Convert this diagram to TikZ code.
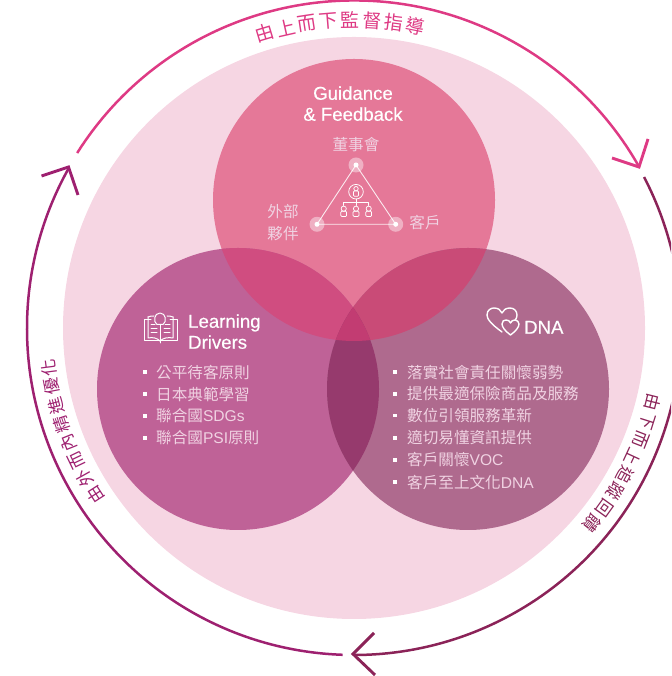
\documentclass[tikz,border=0pt]{standalone}
\usepackage{fontspec}
\setmainfont{Liberation Sans}
\newfontfamily\cjk{Noto Sans CJK TC}
\newfontfamily\headfont[FakeBold=0.35]{Liberation Sans}
\definecolor{cOuter}{HTML}{F6D6E3}
\definecolor{cTop}{HTML}{E57898}
\definecolor{cLeft}{HTML}{BF6297}
\definecolor{cRight}{HTML}{AF6A8E}
\definecolor{cTL}{HTML}{D04D80}
\definecolor{cTR}{HTML}{C94B77}
\definecolor{cTri}{HTML}{C23C72}
\definecolor{cLR}{HTML}{963A6D}
\definecolor{cArcTop}{HTML}{DE3A84}
\definecolor{cArcLeft}{HTML}{9E2070}
\definecolor{cArcRight}{HTML}{8B2358}
\definecolor{cItem}{HTML}{F0D2E2}
\tikzset{
  disc/.style={circle,inner sep=0pt,minimum size=282pt,fill=#1},
  arcline/.style={line width=2.5pt,color=#1,line cap=butt},
  arrowtip/.style={line width=2.9pt,color=#1,line join=miter},
  arcchar/.style={inner sep=0pt,font=\cjk\fontsize{#1}{#1}\selectfont},
  heading/.style={text=white,inner sep=0pt,font=\headfont\fontsize{18.6}{21}\selectfont,text height=13pt,text depth=3.5pt},
  cjklabel/.style={text=cItem,inner sep=0pt,font=\cjk\fontsize{15.6}{22}\selectfont,text height=13pt,text depth=2.5pt},
  listitem/.style={cjklabel,anchor=west},
  bullet/.style={fill=white,inner sep=0pt,minimum size=3.6pt},
  halo/.style={circle,inner sep=0pt,minimum size=15pt,fill=white,fill opacity=.42},
  dotc/.style={circle,inner sep=0pt,minimum size=5pt,fill=white},
  iconline/.style={draw=white,line width=1pt,line join=round,line cap=round},
}
\newcommand{\lat}[1]{{\fontspec{Liberation Sans}#1}}
\begin{document}
\begin{tikzpicture}[x=1pt,y=1pt]
\useasboundingbox (0,0) rectangle (671,676);
\clip (0,0) rectangle (671,676);
\coordinate (c) at (354,348);
% discs
\node[disc=cOuter,minimum size=582pt] (outer) at (354,348) {};
\node[disc=cTop] (topdisc) at (354,476) {};
\node[disc=cLeft] (leftdisc) at (238,287) {};
\node[disc=cRight] (rightdisc) at (468,287) {};
\begin{scope}
  \clip (354,476) circle (141pt);
  \fill[cTL] (238,287) circle (141pt);
  \fill[cTR] (468,287) circle (141pt);
\end{scope}
\begin{scope}
  \clip (238,287) circle (141pt);
  \fill[cLR] (468,287) circle (141pt);
  \clip (354,476) circle (141pt);
  \fill[cTri] (468,287) circle (141pt);
\end{scope}
% outer arcs
\draw[arcline=cArcTop] ([shift={(147.7:327.5pt)}]c) arc[start angle=147.7,end angle=29.5,radius=327.5pt];
\draw[arcline=cArcRight] ([shift={(27.5:327pt)}]c) arc[start angle=27.5,end angle=-90,radius=327pt];
\draw[arcline=cArcLeft] ([shift={(268:327pt)}]c) arc[start angle=268,end angle=150.6,radius=327pt];
\coordinate (tipT) at (639,509); \coordinate (tipT1) at (612,518); \coordinate (tipT2) at (648,537);
\coordinate (tipL) at (68.5,509); \coordinate (tipL1) at (41.5,500); \coordinate (tipL2) at (78,481);
\coordinate (tipB) at (353,22); \coordinate (tipB1) at (374,43); \coordinate (tipB2) at (375,1);
\draw[arrowtip=cArcTop] (tipT1) -- (tipT) -- (tipT2);
\draw[arrowtip=cArcLeft] (tipL1) -- (tipL) -- (tipL2);
\draw[arrowtip=cArcRight] (tipB1) -- (tipB) -- (tipB2);
% arc texts
\foreach \ch [count=\i from 0] in {由,上,而,下,監,督,指,導}{
  \pgfmathsetmacro{\ang}{106.8-4.03*\i}
  \pgfmathsetmacro{\rt}{\ang-90}
  \node[arcchar=19,text=cArcTop,rotate=\rt] (arcT\i) at ([shift={(\ang:308pt)}]c) {\ch};
}
\foreach \ch [count=\i from 0] in {由,外,而,內,精,進,優,化}{
  \pgfmathsetmacro{\ang}{212.8-3.63*\i}
  \pgfmathsetmacro{\rt}{\ang-90}
  \node[arcchar=17,text=cArcLeft,rotate=\rt] (arcL\i) at ([shift={(\ang:308pt)}]c) {\ch};
}
\foreach \ch [count=\i from 0] in {由,下,而,上,追,蹤,回,饋}{
  \pgfmathsetmacro{\ang}{-14-3.61*\i}
  \pgfmathsetmacro{\rt}{\ang-90}
  \node[arcchar=17,text=cArcRight,rotate=\rt] (arcR\i) at ([shift={(\ang:308pt)}]c) {\ch};
}
% top disc
\node[heading] (g1) at (353,581) {Guidance};
\node[heading] (g2) at (353,560) {\&\ Feedback};
\node[cjklabel] (board) at (356,531) {董事會};
\node[cjklabel] (ext1) at (283,464) {外部};
\node[cjklabel] (ext2) at (283,442) {夥伴};
\node[cjklabel] (cust) at (425,453) {客戶};
\node[halo] (hA) at (356,511) {};
\node[halo] (hB) at (317,451.7) {};
\node[halo] (hC) at (395.7,451.7) {};
\node[dotc] (dA) at (356,511) {};
\node[dotc] (dB) at (317,451.7) {};
\node[dotc] (dC) at (395.7,451.7) {};
\draw[white,line width=.9pt,opacity=.85] (dA.center) -- (dB.center) -- (dC.center) -- cycle;
% org icon
\begin{scope}[iconline,line width=.75pt]
  \draw (356,484.3) circle (7.3pt);
  \draw (356,487.3) circle (2.2pt);
  \draw[rounded corners=1pt] (353.4,479.8) rectangle (358.6,485.1);
  \draw (356,477) -- (356,474) (343.7,470.5) -- (343.7,474) -- (368.7,474) -- (368.7,470.5) (356,474) -- (356,470.5);
  \foreach \px in {343.7,356,368.7}{
    \draw (\px,467.3) circle (2.6pt);
    \draw[rounded corners=1pt] (\px-2.9,459.5) rectangle (\px+2.9,464.7);
  }
\end{scope}
% left disc heading + book icon
\node[heading,anchor=west] (ld1) at (188,353) {Learning};
\node[heading,anchor=west] (ld2) at (188,332) {Drivers};
\begin{scope}[iconline]
  \draw (151,356) -- (144,356) -- (144,335) -- (177,335) -- (177,356) -- (170,356);
  \draw (148,359) -- (148,338) .. controls (153,339) and (157,338) .. (160,335);
  \draw (173,359) -- (173,338) .. controls (168,339) and (163,338) .. (160,335);
  \draw (148,359) .. controls (150,360) and (152,360) .. (154,360);
  \draw (173,359) .. controls (171,360) and (169,360) .. (167,360);
  \draw (157,351.5) .. controls (153,354) and (154,363) .. (160,363) .. controls (166,363) and (167,354) .. (163,351.5) -- cycle;
  \draw (160,351.5) -- (160,333);
  \draw (151,351) -- (155,351) (151,347) -- (157,347) (151,343) -- (157,343) (164,347) -- (170,347) (164,343) -- (170,343) (165,351) -- (170,351);
\end{scope}
% left list
\foreach \yy/\nm/\tx in {303.2/a/公平待客原則,281.2/b/日本典範學習,259.5/c/聯合國\lat{SDGs},237.5/d/聯合國\lat{PSI}原則}{
  \node[bullet] (lb\nm) at (145,\yy+.5) {};
  \node[listitem] (lt\nm) at (156,\yy) {\tx};
}
% right heading + hearts
\node[heading,anchor=west] (dna) at (524,347) {DNA};
\draw[iconline,line width=1.4pt] (502,344) .. controls (491,352) and (487,357) .. (487,361) .. controls (487,366) and (491,368) .. (494,368) .. controls (498,368) and (501,366) .. (502,363) .. controls (503,366) and (506,368) .. (510,368) .. controls (514,368) and (517,365) .. (517,361) .. controls (517,358) and (515,355) .. (512,351);
\draw[iconline,line width=1.4pt,fill=cRight] (510.5,341) .. controls (505,345) and (502,349) .. (502,352) .. controls (502,355) and (504,356) .. (506,356) .. controls (508,356) and (510,355) .. (510.5,353) .. controls (511,355) and (513,356) .. (515,356) .. controls (517,356) and (519,354) .. (519,352) .. controls (519,349) and (516,345) .. (510.5,341) -- cycle;
% right list
\foreach \yy/\nm/\tx in {303.2/a/落實社會責任關懷弱勢,281.5/b/提供最適保險商品及服務,259.8/c/數位引領服務革新,237.5/d/適切易懂資訊提供,215.5/e/客戶關懷\lat{VOC},193.2/f/客戶至上文化\lat{DNA}}{
  \node[bullet] (rb\nm) at (395,\yy+.5) {};
  \node[listitem] (rt\nm) at (407,\yy) {\tx};
}
\end{tikzpicture}
\end{document}
